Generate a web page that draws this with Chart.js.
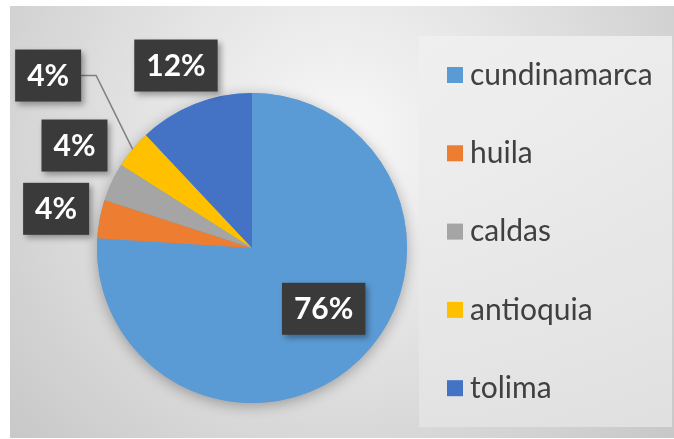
<!DOCTYPE html>
<html>
<head>
<meta charset="utf-8">
<script src="https://cdn.jsdelivr.net/npm/chart.js@4"></script>
<style>
  html, body { margin: 0; padding: 0; background: #fff; }
  canvas { display: block; }
</style>
</head>
<body>
<canvas id="chartDeptos" width="674" height="439"></canvas>
<script>
// ── data ──
const DEPARTAMENTOS = ['cundinamarca', 'huila', 'caldas', 'antioquia', 'tolima'];
const CANTIDADES = [19, 1, 1, 1, 3];
const COLORES = ['#5B9BD5', '#ED7D31', '#A5A5A5', '#FFC000', '#4472C4'];

// label placement: radial factor + nudge (px), leader line flag
const LABEL_K = [0.6, 1.28, 1.28, 1.28, 1.28];
const LABEL_NUDGE = [[8, -7], [-1, -2], [2, -18], [-51, -46], [-3, 2]];
const LABEL_LEADER = [false, false, false, true, false];

const FONT = "Lato, 'Open Sans', sans-serif";

// background + legend panel
const bgPlugin = {
  id: 'bgPanel',
  beforeDraw(chart) {
    const ctx = chart.ctx;
    ctx.save();
    ctx.fillStyle = '#ffffff';
    ctx.fillRect(0, 0, chart.width, chart.height);
    const g = ctx.createRadialGradient(340, 140, 10, 340, 140, 460);
    g.addColorStop(0, '#f7f7f7');
    g.addColorStop(0.4, '#e4e4e4');
    g.addColorStop(1, '#c6c6c6');
    ctx.fillStyle = g;
    ctx.fillRect(10, 6, chart.width - 10, chart.height - 7);
    // legend panel
    const lg = ctx.createLinearGradient(0, 36, 0, 427);
    lg.addColorStop(0, 'rgba(240,240,240,0.85)');
    lg.addColorStop(1, 'rgba(228,228,228,0.85)');
    ctx.fillStyle = lg;
    ctx.fillRect(419, 36, 253, 391);
    ctx.restore();
  }
};

// soft shadow under the pie
const pieShadow = {
  id: 'pieShadow',
  beforeDatasetsDraw(chart) {
    const arc = chart.getDatasetMeta(0).data[0];
    if (!arc) return;
    const ctx = chart.ctx;
    ctx.save();
    ctx.shadowColor = 'rgba(0,0,0,0.3)';
    ctx.shadowBlur = 14;
    ctx.shadowOffsetX = 0;
    ctx.shadowOffsetY = 3;
    ctx.fillStyle = COLORES[0];
    ctx.beginPath();
    ctx.arc(arc.x, arc.y, arc.outerRadius, 0, Math.PI * 2);
    ctx.fill();
    ctx.restore();
  }
};

// dark data-label boxes
const dataLabels = {
  id: 'dataLabels',
  afterDatasetsDraw(chart) {
    const ctx = chart.ctx;
    const meta = chart.getDatasetMeta(0);
    const values = chart.data.datasets[0].data;
    const total = values.reduce((a, b) => a + b, 0);
    ctx.save();
    ctx.font = 'bold 30px ' + FONT;
    meta.data.forEach((arc, i) => {
      const mid = (arc.startAngle + arc.endAngle) / 2;
      const R = arc.outerRadius;
      const cx = arc.x + Math.cos(mid) * R * LABEL_K[i] + LABEL_NUDGE[i][0];
      const cy = arc.y + Math.sin(mid) * R * LABEL_K[i] + LABEL_NUDGE[i][1];
      const txt = Math.round(values[i] / total * 100) + '%';
      const w = ctx.measureText(txt).width + 24;
      const h = 52;
      const x0 = cx - w / 2, y0 = cy - h / 2;

      if (LABEL_LEADER[i]) {
        const ex = arc.x + Math.cos(mid) * R;
        const ey = arc.y + Math.sin(mid) * R;
        ctx.strokeStyle = '#7f7f7f';
        ctx.lineWidth = 1.5;
        ctx.beginPath();
        ctx.moveTo(x0 + w, cy);
        ctx.lineTo(x0 + w + 15, cy);
        ctx.lineTo(ex, ey);
        ctx.stroke();
      }

      ctx.save();
      ctx.shadowColor = 'rgba(0,0,0,0.35)';
      ctx.shadowBlur = 6;
      ctx.shadowOffsetX = 3;
      ctx.shadowOffsetY = 3;
      ctx.fillStyle = '#3a3a3a';
      ctx.fillRect(x0, y0, w, h);
      ctx.restore();

      ctx.fillStyle = '#ffffff';
      ctx.textAlign = 'center';
      ctx.textBaseline = 'middle';
      ctx.fillText(txt, cx, cy + 1);
    });
    ctx.restore();
  }
};

// legend on the right
const legendPlugin = {
  id: 'sideLegend',
  afterDraw(chart) {
    const ctx = chart.ctx;
    const labels = chart.data.labels;
    const cols = chart.data.datasets[0].backgroundColor;
    ctx.save();
    ctx.font = '30px ' + FONT;
    ctx.textBaseline = 'middle';
    ctx.textAlign = 'left';
    labels.forEach((lab, i) => {
      const y = 75 + i * 78.3;
      ctx.fillStyle = cols[i];
      ctx.fillRect(447, y - 8, 16, 16);
      ctx.fillStyle = '#404040';
      ctx.fillText(lab, 470, y);
    });
    ctx.restore();
  }
};

new Chart(document.getElementById('chartDeptos'), {
  type: 'pie',
  data: {
    labels: DEPARTAMENTOS,
    datasets: [{
      data: CANTIDADES,
      backgroundColor: COLORES,
      borderWidth: 0,
      hoverOffset: 0,
    }],
  },
  options: {
    responsive: false,
    animation: false,
    layout: { padding: { left: 97, right: 267, top: 93, bottom: 36 } },
    plugins: {
      legend: { display: false },
      tooltip: { enabled: false },
    },
  },
  plugins: [bgPlugin, pieShadow, dataLabels, legendPlugin],
});
</script>
</body>
</html>
